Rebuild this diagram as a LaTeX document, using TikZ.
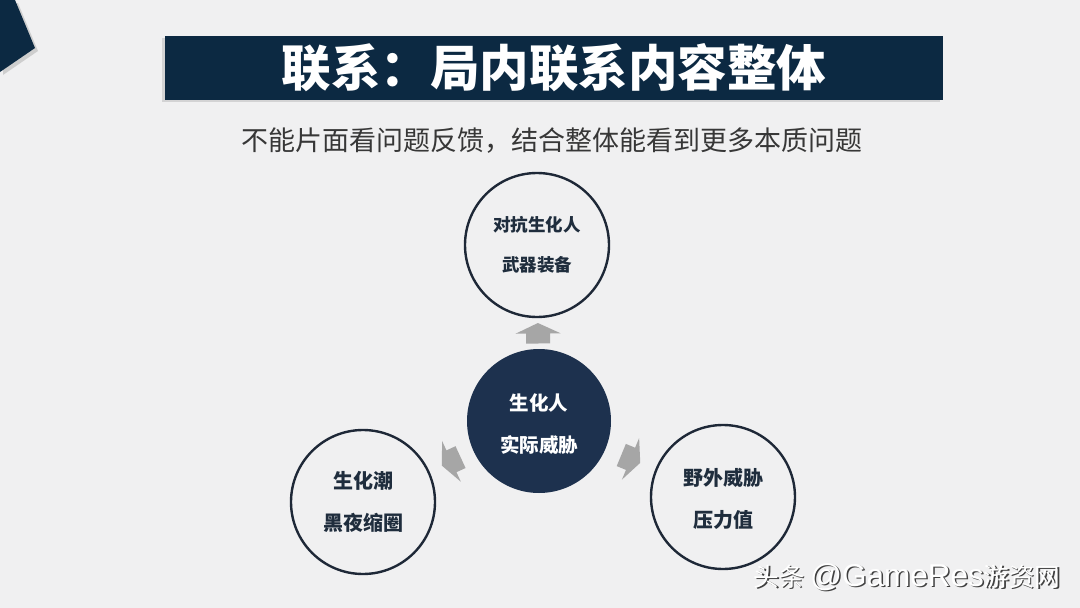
\documentclass[tikz,border=0pt]{standalone}
\usepackage{fontspec}
\setmainfont{Liberation Sans}
\newfontfamily\cjk{Noto Sans CJK SC}
\usetikzlibrary{shadows}
\definecolor{bg}{RGB}{240,240,241}
\definecolor{navy}{RGB}{12,41,66}
\definecolor{midnavy}{RGB}{29,49,78}
\definecolor{outline}{RGB}{30,40,55}
\definecolor{ctext}{RGB}{31,45,61}
\definecolor{subgray}{RGB}{55,55,55}
\definecolor{arrowgray}{RGB}{166,166,166}
\tikzset{
  titlebar/.style={fill=navy, minimum width=778, minimum height=64, inner sep=0,
    drop shadow={opacity=0.25, shadow xshift=-3pt, shadow yshift=-2pt}},
  ring/.style={circle, draw=outline, line width=2.4pt, fill=bg, minimum size=144, inner sep=0},
  hub/.style={circle, fill=midnavy, minimum size=144, inner sep=0},
  lbl/.style={inner sep=0, align=center},
  blockarr/.pic={\fill[arrowgray] (10.5,0) -- (0,22.5) -- (0,12) -- (-10,12) -- (-10,-12) -- (0,-12) -- (0,-22.5) -- cycle;}
}
\begin{document}
\begin{tikzpicture}[x=1pt,y=-1pt]
\fill[bg] (0,0) rectangle (1080,608);
\useasboundingbox (0,0) rectangle (1080,608);
% corner shape
\fill[navy, drop shadow={opacity=0.3, shadow xshift=3pt, shadow yshift=-3pt}] (0,0) -- (15,0) -- (35,48) -- (0,72) -- cycle;
% title
\node[titlebar] (title) at (554,68) {};
\node[text=white, inner sep=0] (titletext) at (554,68) {\cjk\bfseries\fontsize{49.5}{50}\selectfont 联系：局内联系内容整体};
\node[text=subgray, inner sep=0] (sub) at (552,141) {\cjk\fontsize{27}{27}\selectfont 不能片面看问题反馈，结合整体能看到更多本质问题};
% circles
\node[ring] (top) at (537,245) {};
\node[hub] (cen) at (539,421) {};
\node[ring] (left) at (363,502) {};
\node[ring] (right) at (723,497) {};
% circle texts
\node[lbl, text=ctext, font={\cjk\bfseries\fontsize{17.5}{40}\selectfont}] (toplbl) at (537,245) {对抗生化人\\武器装备};
\node[lbl, text=white, font={\cjk\bfseries\fontsize{19.5}{42}\selectfont}] (cenlbl) at (539,424) {生化人\\实际威胁};
\node[lbl, text=ctext, font={\cjk\bfseries\fontsize{20}{42}\selectfont}] (leftlbl) at (363,502) {生化潮\\黑夜缩圈};
\node[lbl, text=ctext, font={\cjk\bfseries\fontsize{20}{42}\selectfont}] (rightlbl) at (723,499) {野外威胁\\压力值};
% arrows
\path (cen) -- pic[pos=0.5, sloped, allow upside down] {blockarr} (top);
\path (cen) -- pic[pos=0.5, sloped, allow upside down] {blockarr} (left);
\path (cen) -- pic[pos=0.5, sloped, allow upside down] {blockarr} (right);
% watermark
\node[text=black!75, inner sep=0] (wmshadow) at (908.5,578.5) {\cjk\fontsize{25.5}{26}\selectfont 头条 {\rmfamily\fontsize{31.5}{32}\selectfont @GameRes}游资网};
\node[text=white, inner sep=0] (wm) at (907,577) {\cjk\fontsize{25.5}{26}\selectfont 头条 {\rmfamily\fontsize{31.5}{32}\selectfont @GameRes}游资网};
\end{tikzpicture}
\end{document}
